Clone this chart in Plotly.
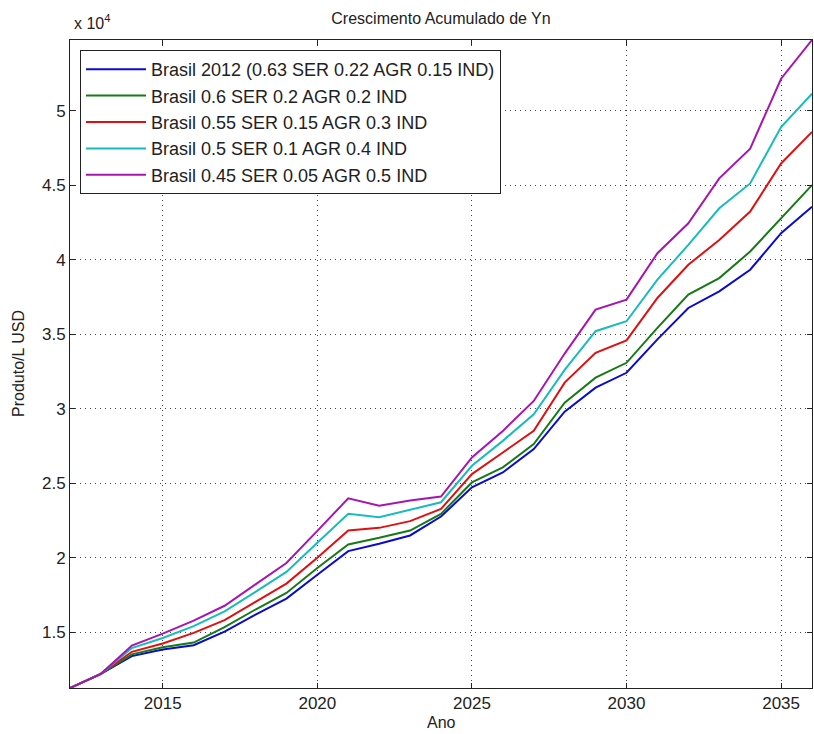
import plotly.graph_objects as go

years = list(range(2012, 2037))

names = [
    "Brasil 2012 (0.63 SER 0.22 AGR 0.15 IND)",
    "Brasil 0.6 SER 0.2 AGR 0.2 IND",
    "Brasil 0.55 SER 0.15 AGR 0.3 IND",
    "Brasil 0.5 SER 0.1 AGR 0.4 IND",
    "Brasil 0.45 SER 0.05 AGR 0.5 IND",
]

brasil_2012 = [11250, 12200, 13390, 13840, 14120, 15030, 16180, 17250, 18850, 20440,
               20930, 21490, 22760, 24720, 25720, 27290, 29800, 31410, 32410, 34650,
               36760, 37880, 39330, 41780, 43560]
ser06 = [11250, 12200, 13510, 13980, 14300, 15330, 16520, 17630, 19300, 20890,
         21330, 21820, 22940, 25050, 26060, 27620, 30400, 32080, 33080, 35420,
         37660, 38770, 40550, 42780, 45010]
ser055 = [11250, 12200, 13680, 14240, 14950, 15800, 17030, 18260, 20000, 21820,
          22000, 22450, 23270, 25610, 27060, 28510, 31750, 33750, 34580, 37430,
          39660, 41330, 43230, 46460, 48580]
ser05 = [11250, 12200, 13930, 14610, 15400, 16400, 17700, 19040, 21000, 22940,
         22710, 23210, 23720, 26170, 27840, 29630, 32600, 35200, 35870, 38660,
         41000, 43450, 45120, 48910, 51140]
ser045 = [11250, 12200, 14100, 14900, 15770, 16770, 18210, 19640, 21800, 23980,
          23490, 23830, 24100, 26730, 28510, 30520, 33700, 36650, 37320, 40440,
          42450, 45460, 47460, 52150, 54750]

series = [brasil_2012, ser06, ser055, ser05, ser045]
colors = ["#0a0ad0", "#177a17", "#e01010", "#18bcbc", "#a814b0"]

x_ticks = [2015, 2020, 2025, 2030, 2035]
y_ticks = [15000, 20000, 25000, 30000, 35000, 40000, 45000, 50000]
y_ticktext = ["1.5", "2", "2.5", "3", "3.5", "4", "4.5", "5"]

FONT = "Liberation Sans, Arial, Helvetica, sans-serif"

fig = go.Figure()
for i, (nm, ys, c) in enumerate(zip(names, series, colors)):
    fig.add_trace(go.Scatter(x=years, y=ys, mode="lines", name=nm,
                             line=dict(color=c, width=2), legendgroup=f"g{i}"))

ymin = min(min(s) for s in series)
ymax = max(max(s) for s in series)

axis_common = dict(
    showline=True, linecolor="#222", linewidth=1, mirror="ticks",
    ticks="inside", ticklen=5, tickcolor="#222", tickwidth=1,
    showgrid=True, gridcolor="#444", gridwidth=1, griddash="1px,4px",
    zeroline=False, tickfont=dict(family=FONT, size=17, color="#222"),
)

fig.update_layout(
    width=814, height=734,
    margin=dict(l=70, r=2, t=40, b=46),
    paper_bgcolor="white", plot_bgcolor="white",
    font=dict(family=FONT, size=17, color="#222"),
    title=dict(text="Crescimento Acumulado de Yn", x=0.5, xref="paper",
               y=1 - 18 / 734, yanchor="middle", font=dict(size=16, color="#222")),
    xaxis=dict(range=[2012, 2036], tickvals=x_ticks, **axis_common),
    yaxis=dict(range=[ymin, ymax], tickvals=y_ticks, ticktext=y_ticktext, **axis_common),
    legend=dict(x=10 / 742, y=1 - 10 / 648, xanchor="left", yanchor="top",
                bgcolor="white", bordercolor="#222", borderwidth=1,
                font=dict(family=FONT, size=18, color="#222"),
                itemwidth=60, tracegroupgap=0, traceorder="grouped"),
    showlegend=True,
    annotations=[
        dict(text="x 10<sup>4</sup>", xref="paper", yref="paper",
             x=2 / 742, y=1 + 18 / 648, xanchor="left", yanchor="middle",
             showarrow=False, font=dict(size=16, color="#222")),
        dict(text="Produto/L USD", xref="paper", yref="paper",
             x=-52 / 742, y=0.5, xanchor="center", yanchor="middle",
             textangle=-90, showarrow=False, font=dict(size=16, color="#222")),
        dict(text="Ano", xref="paper", yref="paper",
             x=0.5, y=-34 / 648, xanchor="center", yanchor="middle",
             showarrow=False, font=dict(size=16, color="#222")),
    ],
)

fig.write_html("out.html", config={"displayModeBar": False},
               post_script="document.body.style.margin='0';")
